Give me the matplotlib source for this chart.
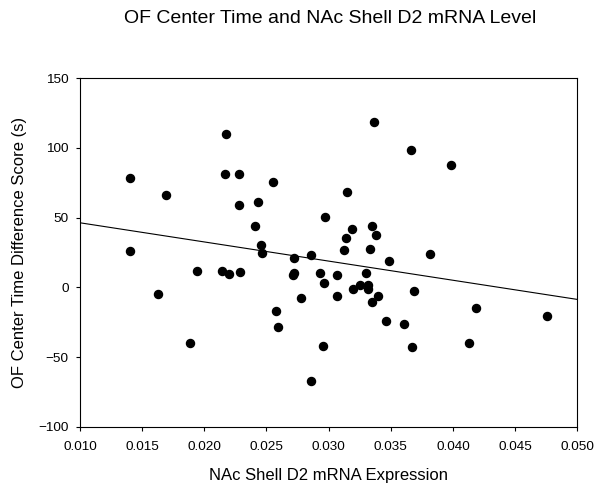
import numpy as np
import matplotlib
matplotlib.use("Agg")
import matplotlib.pyplot as plt

plt.rcParams['font.family'] = ['Liberation Sans', 'DejaVu Sans']

# NAc shell D2 mRNA expression vs. OF center time difference score
d2_expr = [
    0.02172, 0.01402, 0.02169, 0.02281, 0.02555, 0.01689, 0.02281, 0.02429,
    0.02973, 0.02408, 0.02456, 0.02466, 0.02721, 0.02856, 0.01405, 0.03367,
    0.03660, 0.03986, 0.03150, 0.03190, 0.03346, 0.03142, 0.03378, 0.03121,
    0.03335, 0.03815, 0.03485, 0.01943, 0.02142, 0.02201, 0.02287, 0.02721,
    0.02716, 0.02930, 0.03065, 0.02965, 0.03065, 0.01627, 0.02775, 0.02579,
    0.02590, 0.01885, 0.02957, 0.02858, 0.03298, 0.03250, 0.03196, 0.03319,
    0.03314, 0.03399, 0.03349, 0.03686, 0.04183, 0.04756, 0.03459, 0.03604,
    0.03670, 0.04131,
]
center_diff = [
    110.2, 78.7, 81.1, 81.5, 75.8, 66.3, 59.1, 61.2,
    50.7, 44.0, 30.2, 24.4, 21.3, 23.2, 25.9, 118.4,
    98.3, 87.8, 68.2, 42.1, 43.8, 35.6, 37.8, 26.6,
    27.3, 24.1, 18.7, 11.9, 11.7, 9.4, 10.8, 10.5,
    9.1, 10.5, 8.6, 3.1, -6.0, -4.6, -7.6, -16.8,
    -28.2, -39.9, -41.9, -67.2, 10.3, 1.9, -1.4, 1.9,
    -1.2, -6.0, -10.7, -2.8, -14.8, -20.8, -23.9, -26.5,
    -42.8, -39.9,
]

x_ticks = [0.010, 0.015, 0.020, 0.025, 0.030, 0.035, 0.040, 0.045, 0.050]
y_ticks = [-100, -50, 0, 50, 100, 150]

x = np.array(d2_expr)
y = np.array(center_diff)

fig = plt.figure(figsize=(5.94, 4.87), dpi=100)
ax = fig.add_axes([0.1347, 0.1238, 0.8372, 0.7154])

ax.plot(x, y, 'o', color='black', markersize=5.8, linestyle='none')

# linear regression line across the full x range
slope, intercept = np.polyfit(x, y, 1)
xl = np.array([x_ticks[0], x_ticks[-1]])
ax.plot(xl, slope * xl + intercept, color='black', linewidth=0.8)

ax.set_xlim(x_ticks[0], x_ticks[-1])
ax.set_ylim(y_ticks[0], y_ticks[-1])
ax.set_xticks(x_ticks)
ax.set_xticklabels([f"{t:.3f}" for t in x_ticks])
ax.set_yticks(y_ticks)
ax.tick_params(direction='out', length=3.2, width=0.8, labelsize=9.7)
ax.tick_params(axis='x', pad=7)
ax.tick_params(axis='y', pad=5)
for s in ax.spines.values():
    s.set_linewidth(0.8)

ax.set_xlabel("NAc Shell D2 mRNA Expression", fontsize=12, labelpad=11)
ax.set_ylabel("OF Center Time Difference Score (s)", fontsize=12, labelpad=8)
fig.text(0.556, 0.962, "OF Center Time and NAc Shell D2 mRNA Level",
         fontsize=14, ha='center', va='center')

fig.savefig("out.png", dpi=100)
